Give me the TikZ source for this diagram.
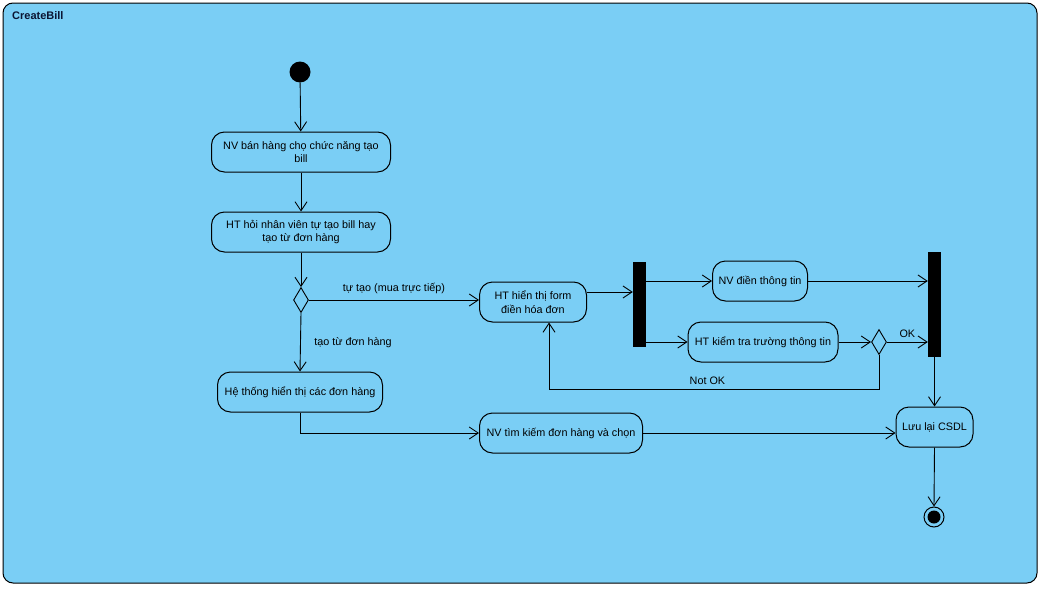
\documentclass[tikz,border=0pt]{standalone}
\usepackage{fontspec}
\setmainfont{Liberation Sans}
\usetikzlibrary{arrows.meta,shapes.geometric}
\definecolor{vpblue}{RGB}{122,206,245}
\definecolor{vpnavy}{RGB}{10,20,50}
\tikzstyle{arrow} = [line width=0.9pt,-{Straight Barb[length=9pt,width=12pt]}]
\tikzstyle{action} = [draw, line width=1pt, rounded corners=13pt, minimum height=40pt, align=center, inner sep=2pt, font=\fontsize{10.8}{13.5}\selectfont]
\tikzstyle{bar} = [fill=black, minimum width=13pt, inner sep=0pt]
\tikzstyle{decision} = [draw, line width=0.9pt, diamond, minimum width=15pt, minimum height=25pt, inner sep=0pt]
\tikzstyle{guard} = [font=\fontsize{10.8}{13.5}\selectfont]

\begin{document}
\begin{tikzpicture}[x=1pt, y=-1pt]
\useasboundingbox (0,0) rectangle (1042,589);
% Frame
\draw[line width=1pt, fill=vpblue, rounded corners=10pt] (3,3) rectangle (1037,583);
\node[anchor=west, font=\fontsize{11}{13}\selectfont\bfseries, text=vpnavy, inner sep=0pt] (title) at (12,16) {CreateBill};

% Start and end
\node[circle, fill=black, minimum size=21pt, inner sep=0pt] (init) at (300,72) {};
\node[circle, draw, line width=1pt, minimum size=20pt, inner sep=0pt] (final) at (934,517) {};
\node[circle, fill=black, minimum size=13pt, inner sep=0pt] (finaldot) at (final) {};

% Left column
\node[action, minimum width=179pt] (chon) at (301,152) {NV bán hàng chọ chức năng tạo\\bill};
\node[action, minimum width=179pt] (hoi) at (301,232) {HT hỏi nhân viên tự tạo bill hay\\tạo từ đơn hàng};
\node[decision] (dec1) at (301,300) {};
\node[action, minimum width=165pt] (hienthi) at (300,392) {Hệ thống hiển thị các đơn hàng};

% Middle
\node[action, minimum width=107pt] (form) at (533,302) {HT hiển thị form\\điền hóa đơn};
\node[action, minimum width=163pt] (timkiem) at (561,433) {NV tìm kiếm đơn hàng và chọn};
\node[bar, minimum height=85pt] (fork) at (639.5,304.5) {};
\node[action, minimum width=95pt] (dien) at (760,281) {NV điền thông tin};
\node[action, minimum width=150pt] (kiemtra) at (763,342) {HT kiểm tra trường thông tin};
\node[decision] (dec2) at (879,342) {};

% Right
\node[bar, minimum height=105pt] (join) at (934.5,304.5) {};
\node[action, minimum width=77pt] (luu) at (934.5,427) {Lưu lại CSDL};
\coordinate (notok) at (549,389);

% Connections
\draw[arrow] (init) -- (chon);
\draw[arrow] (chon) -- (hoi);
\draw[arrow] (hoi) -- (dec1.north);
\draw[arrow] (dec1.east) -- (dec1.east -| form.west) node[guard, midway, above=2pt] {tự tạo (mua trực tiếp)};
\draw[arrow] (dec1.south) -- (hienthi.north) node[guard, midway, right=10pt] {tạo từ đơn hàng};
\draw[arrow] (hienthi.south) |- (timkiem.west);
\draw[arrow] ([yshift=10pt]form.east) -- ([yshift=10pt]form.east -| fork.west);
\draw[arrow] (fork.east |- dien.west) -- (dien.west);
\draw[arrow] (fork.east |- kiemtra.west) -- (kiemtra.west);
\draw[arrow] (dien.east) -- (dien.east -| join.west);
\draw[arrow] (kiemtra.east) -- (dec2.west);
\draw[arrow] (dec2.east) -- (dec2.east -| join.west) node[guard, midway, above=1pt] {OK};
\draw[arrow] (dec2.south) |- (notok) node[guard, pos=0.76, above=1pt] {Not OK} -- (notok |- form.south);
\draw[arrow] (join.south) -- (luu.north);
\draw[arrow] (timkiem.east) -- (timkiem.east -| luu.west);
\draw[arrow] (luu.south) -- (final.north);
\end{tikzpicture}
\end{document}
